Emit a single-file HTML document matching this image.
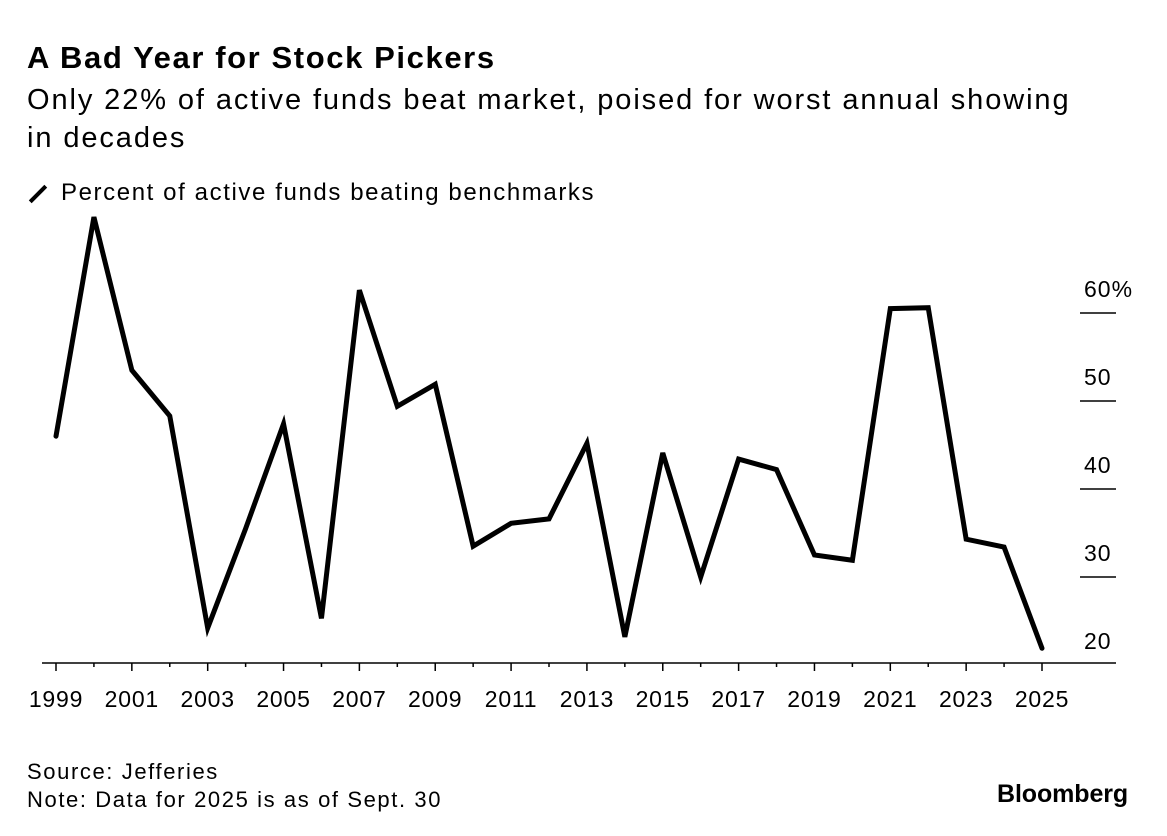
<!DOCTYPE html>
<html><head><meta charset="utf-8"><style>
body{margin:0;background:#fff;font-family:"Liberation Sans",sans-serif;color:#000}
.t{position:absolute;left:27px}
</style></head><body>
<div style="position:relative;width:1167px;height:836px;overflow:hidden">
<div class="t" style="top:40px;font-size:31px;font-weight:bold;letter-spacing:1.6px">A Bad Year for Stock Pickers</div>
<div class="t" style="top:81px;font-size:29px;line-height:38px;width:1065px;letter-spacing:1.9px">Only 22% of active funds beat market, poised for worst annual showing in decades</div>
<div class="t" style="top:179px;font-size:24px;letter-spacing:1.6px"><span style="display:inline-block;width:22px;height:4px;background:#000;transform:rotate(-45deg);vertical-align:middle;margin-right:12px"></span>Percent of active funds beating benchmarks</div>
<svg id="c" width="1167" height="836" style="position:absolute;left:0;top:0"></svg>
<div class="t" style="top:758px;font-size:22px;line-height:28px;letter-spacing:1.6px">Source: Jefferies<br>Note: Data for 2025 is as of Sept. 30</div>
<div style="position:absolute;left:997px;top:780px;font-size:25px;font-weight:bold;letter-spacing:-0.1px">Bloomberg</div>
</div>
<script>
const years=[1999,2000,2001,2002,2003,2004,2005,2006,2007,2008,2009,2010,2011,2012,2013,2014,2015,2016,2017,2018,2019,2020,2021,2022,2023,2024,2025];
const values=[46.0,70.9,53.5,48.3,24.2,35.5,47.4,25.3,62.6,49.4,51.9,33.5,36.1,36.6,45.2,23.2,44.1,30.0,43.4,42.2,32.5,31.9,60.5,60.6,34.3,33.4,21.9];
const yTicks=[20,30,40,50,60];
const yTickLabels=["20","30","40","50","60%"];
const xLabels=[1999,2001,2003,2005,2007,2009,2011,2013,2015,2017,2019,2021,2023,2025];
const NS="http://www.w3.org/2000/svg",svg=document.getElementById('c');
const x=yr=>56+(yr-1999)*(1042-56)/26;
const y=v=>665-(v-20)*8.8;
function mk(t,a){const e=document.createElementNS(NS,t);for(const k in a)e.setAttribute(k,a[k]);svg.appendChild(e);return e;}
let b=mk('line',{x1:42,x2:1116,y1:663,y2:663,stroke:'#000','stroke-width':1.5});


yTicks.forEach((v,i)=>{
 if(v>20){let l=mk('line',{x1:1080,x2:1116,y1:y(v),y2:y(v),stroke:'#000','stroke-width':1.5});
 
 }
 let t=mk('text',{x:1084,y:y(v)-16,'font-size':23,'letter-spacing':1,'font-family':'Liberation Sans'});
 t.textContent=yTickLabels[i];
 
 
});
years.forEach(yr=>{
 let l=mk('line',{x1:x(yr),x2:x(yr),y1:663,y2:yr%2?671:667,stroke:'#000','stroke-width':1.5});
 
 
});
xLabels.forEach(yr=>{
 let t=mk('text',{x:x(yr),y:707,'font-size':23,'letter-spacing':0.8,'text-anchor':'middle','font-family':'Liberation Sans'});
 t.textContent=yr;
 
 
});
let p=mk('polyline',{points:years.map((yr,i)=>x(yr)+','+y(values[i])).join(' '),fill:'none',stroke:'#000','stroke-width':5,'stroke-linejoin':'miter','stroke-linecap':'round'});


</script>
</body></html>
